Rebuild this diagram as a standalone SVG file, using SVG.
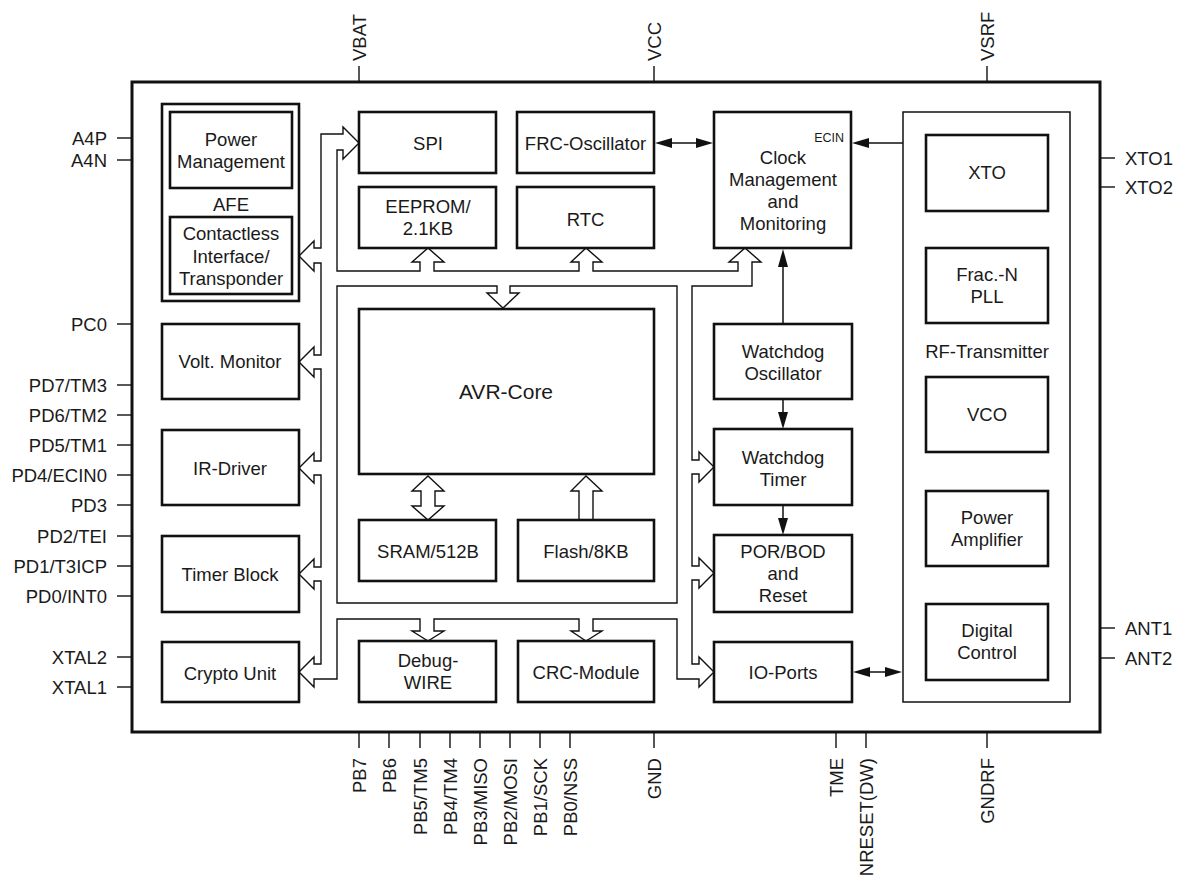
<svg xmlns="http://www.w3.org/2000/svg" width="1185" height="880" viewBox="0 0 1185 880">
<style>
text{font-family:"Liberation Sans",Arial,sans-serif;font-size:18.5px;fill:#1a1a1a}
.c{text-anchor:middle}
.e{text-anchor:end}
.box{fill:#fff;stroke:#111;stroke-width:2.6}
.thin{fill:none;stroke:#111;stroke-width:1.4}
.pin{stroke:#111;stroke-width:1.4}
.ln{stroke:#111;stroke-width:1.5;fill:none}
.ah{fill:#111}
</style>
<rect width="1185" height="880" fill="#fff"/>
<g id="chip"><rect x="132" y="82" width="968" height="650" fill="none" stroke="#111" stroke-width="3"/></g>
<g id="pins">
<line class="pin" x1="359" y1="66" x2="359" y2="82"/><line class="pin" x1="654" y1="66" x2="654" y2="82"/><line class="pin" x1="987" y1="66" x2="987" y2="82"/>
<text transform="translate(366,61) rotate(-90)">VBAT</text>
<text transform="translate(661,61) rotate(-90)">VCC</text>
<text transform="translate(994,61) rotate(-90)">VSRF</text>
<line class="pin" x1="117" y1="138" x2="132" y2="138"/><text class="e" x="107" y="144.5">A4P</text>
<line class="pin" x1="117" y1="160" x2="132" y2="160"/><text class="e" x="107" y="166.5">A4N</text>
<line class="pin" x1="117" y1="324" x2="132" y2="324"/><text class="e" x="107" y="330.5">PC0</text>
<line class="pin" x1="117" y1="385" x2="132" y2="385"/><text class="e" x="107" y="391.5">PD7/TM3</text>
<line class="pin" x1="117" y1="415" x2="132" y2="415"/><text class="e" x="107" y="421.5">PD6/TM2</text>
<line class="pin" x1="117" y1="445" x2="132" y2="445"/><text class="e" x="107" y="451.5">PD5/TM1</text>
<line class="pin" x1="117" y1="475" x2="132" y2="475"/><text class="e" x="107" y="481.5">PD4/ECIN0</text>
<line class="pin" x1="117" y1="505" x2="132" y2="505"/><text class="e" x="107" y="511.5">PD3</text>
<line class="pin" x1="117" y1="536" x2="132" y2="536"/><text class="e" x="107" y="542.5">PD2/TEI</text>
<line class="pin" x1="117" y1="566" x2="132" y2="566"/><text class="e" x="107" y="572.5">PD1/T3ICP</text>
<line class="pin" x1="117" y1="596" x2="132" y2="596"/><text class="e" x="107" y="602.5">PD0/INT0</text>
<line class="pin" x1="117" y1="657" x2="132" y2="657"/><text class="e" x="107" y="663.5">XTAL2</text>
<line class="pin" x1="117" y1="687" x2="132" y2="687"/><text class="e" x="107" y="693.5">XTAL1</text>
<line class="pin" x1="1100" y1="158" x2="1115" y2="158"/><text x="1125" y="164.5">XTO1</text>
<line class="pin" x1="1100" y1="187" x2="1115" y2="187"/><text x="1125" y="193.5">XTO2</text>
<line class="pin" x1="1100" y1="628" x2="1115" y2="628"/><text x="1125" y="634.5">ANT1</text>
<line class="pin" x1="1100" y1="658" x2="1115" y2="658"/><text x="1125" y="664.5">ANT2</text>
<line class="pin" x1="359" y1="732" x2="359" y2="748"/><text class="e" transform="translate(366,758) rotate(-90)">PB7</text>
<line class="pin" x1="389" y1="732" x2="389" y2="748"/><text class="e" transform="translate(396,758) rotate(-90)">PB6</text>
<line class="pin" x1="420" y1="732" x2="420" y2="748"/><text class="e" transform="translate(427,758) rotate(-90)">PB5/TM5</text>
<line class="pin" x1="450" y1="732" x2="450" y2="748"/><text class="e" transform="translate(457,758) rotate(-90)">PB4/TM4</text>
<line class="pin" x1="480" y1="732" x2="480" y2="748"/><text class="e" transform="translate(487,758) rotate(-90)">PB3/MISO</text>
<line class="pin" x1="510" y1="732" x2="510" y2="748"/><text class="e" transform="translate(517,758) rotate(-90)">PB2/MOSI</text>
<line class="pin" x1="540" y1="732" x2="540" y2="748"/><text class="e" transform="translate(547,758) rotate(-90)">PB1/SCK</text>
<line class="pin" x1="570" y1="732" x2="570" y2="748"/><text class="e" transform="translate(577,758) rotate(-90)">PB0/NSS</text>
<line class="pin" x1="654" y1="732" x2="654" y2="748"/><text class="e" transform="translate(661,758) rotate(-90)">GND</text>
<line class="pin" x1="836" y1="732" x2="836" y2="748"/><text class="e" transform="translate(843,758) rotate(-90)">TME</text>
<line class="pin" x1="866" y1="732" x2="866" y2="748"/><text class="e" transform="translate(873,758) rotate(-90)">NRESET(DW)</text>
<line class="pin" x1="987" y1="732" x2="987" y2="748"/><text class="e" transform="translate(994,758) rotate(-90)">GNDRF</text>
</g>
<g id="afe">
<rect class="box" x="162" y="104" width="137" height="197"/>
<text class="c" x="231" y="211">AFE</text>
</g>
<g id="power-management"><rect class="box" x="170" y="112" width="122" height="76"/><text class="c" x="231" y="146">Power</text><text class="c" x="231" y="168">Management</text></g>
<g id="contactless"><rect class="box" x="170" y="217" width="122" height="77"/><text class="c" x="231" y="240">Contactless</text><text class="c" x="231" y="263">Interface/</text><text class="c" x="231" y="285">Transponder</text></g>
<g id="volt-monitor"><rect class="box" x="162" y="324" width="137" height="75"/><text class="c" x="230" y="368">Volt. Monitor</text></g>
<g id="ir-driver"><rect class="box" x="162" y="430" width="137" height="75"/><text class="c" x="230" y="475">IR-Driver</text></g>
<g id="timer-block"><rect class="box" x="162" y="536" width="137" height="76"/><text class="c" x="230" y="581">Timer Block</text></g>
<g id="crypto-unit"><rect class="box" x="162" y="642" width="137" height="60"/><text class="c" x="230" y="680">Crypto Unit</text></g>
<g id="spi"><rect class="box" x="359" y="112" width="137" height="61"/><text class="c" x="428" y="150">SPI</text></g>
<g id="eeprom"><rect class="box" x="359" y="187" width="137" height="61"/><text class="c" x="428" y="213">EEPROM/</text><text class="c" x="428" y="235">2.1KB</text></g>
<g id="frc-oscillator"><rect class="box" x="517" y="112" width="137" height="61"/><text class="c" x="585.5" y="150">FRC-Oscillator</text></g>
<g id="rtc"><rect class="box" x="517" y="187" width="137" height="61"/><text class="c" x="585.5" y="226">RTC</text></g>
<g id="clock-management"><rect class="box" x="714" y="112" width="137" height="136"/><text class="e" x="844" y="142" style="font-size:12.5px">ECIN</text><text class="c" x="783" y="164">Clock</text><text class="c" x="783" y="186">Management</text><text class="c" x="783" y="208">and</text><text class="c" x="783" y="230">Monitoring</text></g>
<g id="avr-core"><rect class="box" x="359" y="309" width="295" height="165"/><text class="c" x="506" y="399" style="font-size:21px">AVR-Core</text></g>
<g id="sram"><rect class="box" x="359" y="520" width="137" height="61"/><text class="c" x="428" y="558">SRAM/512B</text></g>
<g id="flash"><rect class="box" x="518" y="520" width="136" height="61"/><text class="c" x="586" y="558">Flash/8KB</text></g>
<g id="debug-wire"><rect class="box" x="359" y="641" width="137" height="61"/><text class="c" x="428" y="667">Debug-</text><text class="c" x="428" y="689">WIRE</text></g>
<g id="crc-module"><rect class="box" x="518" y="641" width="136" height="61"/><text class="c" x="586" y="679">CRC-Module</text></g>
<g id="watchdog-oscillator"><rect class="box" x="714" y="324" width="138" height="75"/><text class="c" x="783" y="358">Watchdog</text><text class="c" x="783" y="380">Oscillator</text></g>
<g id="watchdog-timer"><rect class="box" x="714" y="429" width="138" height="76"/><text class="c" x="783" y="464">Watchdog</text><text class="c" x="783" y="486">Timer</text></g>
<g id="por-bod"><rect class="box" x="714" y="535" width="138" height="77"/><text class="c" x="783" y="558">POR/BOD</text><text class="c" x="783" y="580">and</text><text class="c" x="783" y="602">Reset</text></g>
<g id="io-ports"><rect class="box" x="714" y="642" width="138" height="60"/><text class="c" x="783" y="679">IO-Ports</text></g>
<g id="rf-transmitter"><rect x="903" y="112" width="167" height="590" fill="#fff" stroke="#111" stroke-width="1.5"/><text class="c" x="987" y="358">RF-Transmitter</text></g>
<g id="xto"><rect class="box" x="926" y="135" width="122" height="76"/><text class="c" x="987" y="179">XTO</text></g>
<g id="frac-n-pll"><rect class="box" x="926" y="248" width="122" height="75"/><text class="c" x="987" y="281">Frac.-N</text><text class="c" x="987" y="303">PLL</text></g>
<g id="vco"><rect class="box" x="926" y="377" width="122" height="75"/><text class="c" x="987" y="421">VCO</text></g>
<g id="power-amplifier"><rect class="box" x="926" y="491" width="122" height="75"/><text class="c" x="987" y="524">Power</text><text class="c" x="987" y="546">Amplifier</text></g>
<g id="digital-control"><rect class="box" x="926" y="604" width="122" height="76"/><text class="c" x="987" y="637">Digital</text><text class="c" x="987" y="659">Control</text></g>
<g id="connectors">
<path class="thin" d="M337,150 V271 H420 V262 H412 L428,248 L444,262 H434 V271 H579 V262 H571 L586,248 L602,262 H593 V271 H738 V262 H729 L745,248 L761,262 H752 V286 H692 V460 H699 V452 L714,467 L699,482 V474 H692 V566 H699 V558 L714,573 L699,588 V580 H692 V664 H699 V657 L714,672 L699,687 V679 H677 V619 H593 V631 H602 L586,641 L571,631 H579 V619 H434 V631 H444 L428,641 L412,631 H420 V619 H337 V679 H314 V687 L299,672 L314,657 V664 H321 V581 H314 V589 L299,574 L314,559 V567 H321 V475 H314 V483 L299,468 L314,453 V461 H321 V369 H314 V377 L299,362 L314,347 V355 H321 V263 H314 V271 L299,256 L314,241 V248 H321 V134 H343 V127 L359,143 L343,159 V150 Z"/>
<path class="thin" d="M337,286 H497 V293 H487 L503,308 L519,293 H510 V286 H677 V603 H337 Z"/>
<path class="thin" d="M428,476 L444,491 H435 V506 H444 L428,520 L412,506 H421 V491 H412 Z"/>
<path class="thin" d="M579,520 V491 H571 L586,476 L602,491 H593 V520"/>
<line class="ln" x1="670" y1="143" x2="698" y2="143"/>
<polygon class="ah" points="655,143 672,138 672,148"/>
<polygon class="ah" points="713,143 696,138 696,148"/>
<line class="ln" x1="867" y1="143" x2="903" y2="143"/>
<polygon class="ah" points="852,143 869,138 869,148"/>
<line class="ln" x1="783" y1="265" x2="783" y2="324"/>
<polygon class="ah" points="783,249 778,267 788,267"/>
<line class="ln" x1="783" y1="399" x2="783" y2="414"/>
<polygon class="ah" points="783,429 778,412 788,412"/>
<line class="ln" x1="783" y1="505" x2="783" y2="520"/>
<polygon class="ah" points="783,535 778,518 788,518"/>
<line class="ln" x1="868" y1="672" x2="888" y2="672"/>
<polygon class="ah" points="853,672 870,667 870,677"/>
<polygon class="ah" points="902,672 885,667 885,677"/>
</g>
</svg>
